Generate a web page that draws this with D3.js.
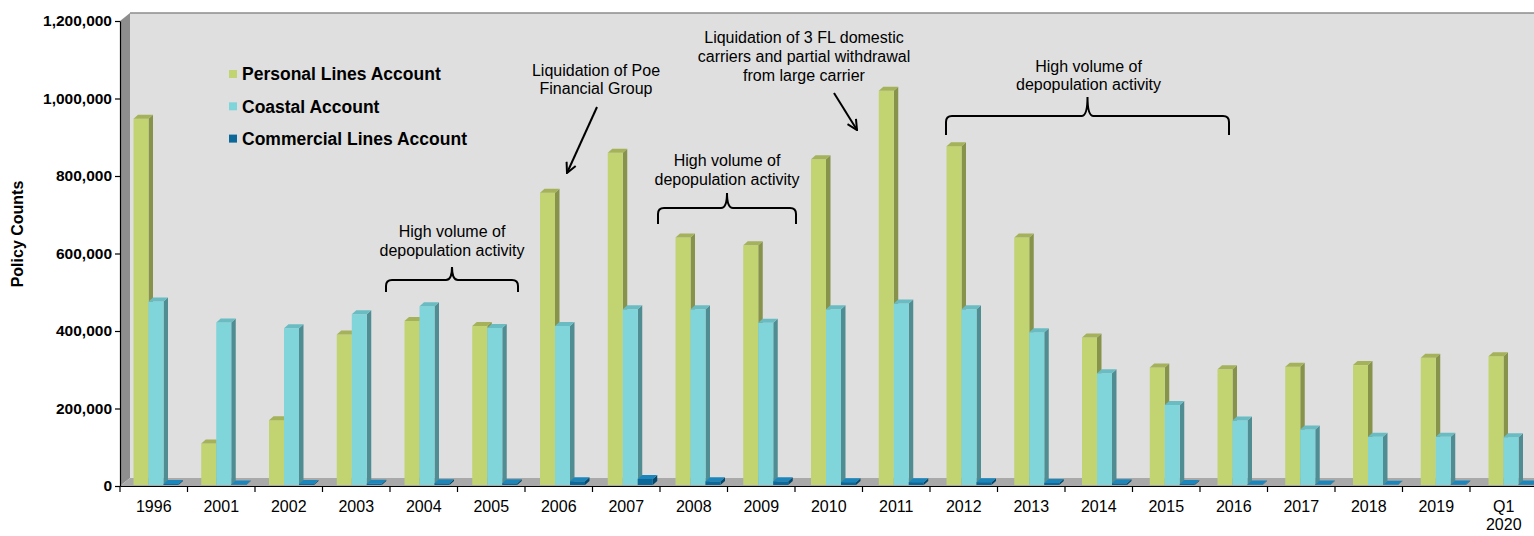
<!DOCTYPE html>
<html lang="en">
<head>
<meta charset="utf-8">
<title>Policy Counts</title>
<script src="https://cdn.jsdelivr.net/npm/d3@7"></script>
<style>
body { margin: 0; background: #fff; }
svg text { font-family: Arial, "Liberation Sans", sans-serif; fill: #000; }
</style>
</head>
<body>
<svg id="chart" width="1534" height="536"></svg>
<script>
// data
var categories = ["1996", "2001", "2002", "2003", "2004", "2005", "2006", "2007", "2008", "2009",
  "2010", "2011", "2012", "2013", "2014", "2015", "2016", "2017", "2018", "2019", "Q1 2020"];
var personal = [948000, 110000, 170000, 391000, 426000, 413000, 757000, 860000, 641000, 621000,
  843000, 1020000, 877000, 641000, 383000, 306000, 301000, 308000, 312000, 331000, 335000];
var coastal = [476000, 422000, 407000, 443000, 464000, 408000, 413000, 456000, 456000, 421000,
  456000, 471000, 456000, 397000, 291000, 209000, 169000, 146000, 127000, 127000, 126000];
var commercial = [5000, 4000, 5000, 6000, 7000, 7000, 12000, 18000, 12000, 12000,
  10000, 10000, 10000, 8000, 7000, 5000, 4000, 4000, 3000, 4000, 4000];
var seriesNames = ["Personal Lines Account", "Coastal Account", "Commercial Lines Account"];
var yTicks = [0, 200000, 400000, 600000, 800000, 1000000, 1200000];

var noteDepop = ["High volume of", "depopulation activity"];
var notePoe = ["Liquidation of Poe", "Financial Group"];
var noteFL = ["Liquidation of 3 FL domestic", "carriers and partial withdrawal", "from large carrier"];

var colors = {
  "Personal Lines Account": { front: "#c1d471", side: "#87934a", top: "#a5b25a" },
  "Coastal Account": { front: "#80d5db", side: "#4f8d93", top: "#69bcc2" },
  "Commercial Lines Account": { front: "#0b6899", side: "#06486b", top: "#1b86bb" }
};
var values = [personal, coastal, commercial];

var svg = d3.select("#chart");

var y = d3.scaleLinear().domain([0, 1200000]).range([486, 21]);
var x = d3.scaleBand().domain(categories).range([120, 1537.5]);
// bars sit a little behind the front plane, so their step is slightly wider
var xb = d3.scaleBand().domain(categories).range([133.5, 133.5 + categories.length * 67.75]);
var xs = d3.scaleBand().domain(seriesNames).range([0, 45]);

var wall = { dx: 10, dy: 8 };
var bd = { dx: 4.5, dy: 4 };
var base = y(0) - 1;

// back wall, side wall, floor
svg.append("polygon")
  .attr("points", [[120 + wall.dx, y(1200000) - wall.dy], [1545, y(1200000) - wall.dy],
    [1545, y(0) - wall.dy], [120 + wall.dx, y(0) - wall.dy]].join(" "))
  .attr("fill", "#dfdfdf");
svg.append("line")
  .attr("x1", 120 + wall.dx).attr("x2", 1545)
  .attr("y1", y(1200000) - wall.dy).attr("y2", y(1200000) - wall.dy)
  .attr("stroke", "#8d8d8d").attr("stroke-width", 1.5);
svg.append("polygon")
  .attr("points", [[120, y(1200000)], [120 + wall.dx, y(1200000) - wall.dy],
    [120 + wall.dx, y(0) - wall.dy], [120, y(0)]].join(" "))
  .attr("fill", "#8e8e8e");
svg.append("polygon")
  .attr("points", [[120, y(0)], [120 + wall.dx, y(0) - wall.dy],
    [1545, y(0) - wall.dy], [1545, y(0)]].join(" "))
  .attr("fill", "#a9a9a9");

// 3d bars, one series at a time (left bar first so the next one covers its side)
var w = xs.bandwidth();
seriesNames.forEach(function(s, k) {
  var g = svg.append("g").attr("class", "series");
  var bars = g.selectAll("g").data(values[k]).enter().append("g");
  function left(d, i) { return xb(categories[i]) + xs(s); }
  bars.append("polygon") // side
    .attr("points", function(d, i) {
      var x0 = left(d, i) + w, t = y(d);
      return [[x0, t], [x0 + bd.dx, t - bd.dy], [x0 + bd.dx, base - bd.dy], [x0, base]].join(" ");
    })
    .attr("fill", colors[s].side);
  bars.append("rect") // front
    .attr("x", left)
    .attr("y", function(d) { return y(d); })
    .attr("width", w)
    .attr("height", function(d) { return Math.max(0, base - y(d)); })
    .attr("fill", colors[s].front);
  bars.append("polygon") // top
    .attr("points", function(d, i) {
      var x0 = left(d, i), t = y(d);
      return [[x0, t], [x0 + bd.dx, t - bd.dy], [x0 + w + bd.dx, t - bd.dy], [x0 + w, t]].join(" ");
    })
    .attr("fill", colors[s].top);
});

// y axis
var yAxis = svg.append("g")
  .attr("transform", "translate(120,0)")
  .call(d3.axisLeft(y).tickValues(yTicks).tickSize(5).tickSizeOuter(0)
    .tickPadding(3).tickFormat(d3.format(",")));
yAxis.select(".domain").attr("stroke", "#000").attr("stroke-width", 1.2);
yAxis.selectAll(".tick line").attr("stroke", "#000").attr("stroke-width", 1.2);
yAxis.selectAll(".tick text")
  .attr("font-size", 15.5).attr("font-weight", "bold")
  .style("font-family", "Arial, 'Liberation Sans', sans-serif");

svg.append("text")
  .attr("transform", "translate(23,234) rotate(-90)")
  .attr("text-anchor", "middle")
  .attr("font-size", 16).attr("font-weight", "bold")
  .text("Policy Counts");

// x axis: labels centred in each band, ticks on the band edges
var xAxis = svg.append("g")
  .attr("transform", "translate(0," + y(0) + ")")
  .call(d3.axisBottom(x).tickSize(0).tickSizeOuter(0));
xAxis.select(".domain").attr("stroke", "#000").attr("stroke-width", 1.2);
xAxis.selectAll(".tick text").each(function(d) {
  var t = d3.select(this).attr("y", null).attr("dy", null).text(null)
    .attr("font-size", 16)
    .style("font-family", "Arial, 'Liberation Sans', sans-serif");
  d.split(" ").forEach(function(part, j) {
    t.append("tspan").attr("x", 0).attr("y", 26 + j * 18).text(part);
  });
});
xAxis.selectAll(".edge")
  .data(categories.concat([null]))
  .enter().append("line")
  .attr("class", "edge")
  .attr("x1", function(d) { return d === null ? x.range()[1] : x(d); })
  .attr("x2", function(d) { return d === null ? x.range()[1] : x(d); })
  .attr("y1", 0).attr("y2", 6)
  .attr("stroke", "#000").attr("stroke-width", 1.2);

// legend
var legend = svg.append("g").attr("transform", "translate(229,74)");
var li = legend.selectAll("g").data(seriesNames).enter().append("g")
  .attr("transform", function(d, i) { return "translate(0," + i * 32.3 + ")"; });
li.append("rect").attr("x", 0).attr("y", -4).attr("width", 8).attr("height", 8)
  .attr("fill", function(d) { return colors[d].front; });
li.append("text").attr("x", 13).attr("dy", "0.36em")
  .attr("font-size", 17.5).attr("font-weight", "bold")
  .text(function(d) { return d; });

// annotations
function note(lines, cx, firstBase, step) {
  var t = svg.append("text").attr("text-anchor", "middle").attr("font-size", 16);
  lines.forEach(function(line, j) {
    t.append("tspan").attr("x", cx).attr("y", firstBase + j * step).text(line);
  });
}
function brace(l, r, h, bottom, top) {
  var m = (l + r) / 2, rr = 6;
  var p = d3.path();
  p.moveTo(l, bottom);
  p.lineTo(l, h + rr);
  p.quadraticCurveTo(l, h, l + rr, h);
  p.lineTo(m - rr, h);
  p.quadraticCurveTo(m, h, m, top);
  p.quadraticCurveTo(m, h, m + rr, h);
  p.lineTo(r - rr, h);
  p.quadraticCurveTo(r, h, r, h + rr);
  p.lineTo(r, bottom);
  svg.append("path").attr("d", p.toString())
    .attr("fill", "none").attr("stroke", "#000").attr("stroke-width", 2);
  return m;
}

svg.append("defs").append("marker")
  .attr("id", "head").attr("markerUnits", "userSpaceOnUse")
  .attr("viewBox", "0 0 12 12").attr("refX", 11).attr("refY", 6)
  .attr("markerWidth", 12).attr("markerHeight", 12).attr("orient", "auto")
  .append("path").attr("d", "M1,1 L11,6 L1,11")
  .attr("fill", "none").attr("stroke", "#000").attr("stroke-width", 2);
function arrow(x1, y1, x2, y2) {
  svg.append("line").attr("x1", x1).attr("y1", y1).attr("x2", x2).attr("y2", y2)
    .attr("stroke", "#000").attr("stroke-width", 2).attr("marker-end", "url(#head)");
}

var bw = x.bandwidth();
var m1 = brace(x("2004") - 4, x("2005") + bw - 7, 280, 292, 267);
note(noteDepop, m1, 237, 19);
var m2 = brace(x("2008") - 2, x("2009") + bw + 1, 208, 224, 193);
note(noteDepop, m2, 166, 19);
var m3 = brace(x("2012") + 16, x("2016") + 29, 116, 135, 97);
note(noteDepop, m3 + 1, 72, 18);

note(notePoe, x("2006") + 71, 76, 18);
arrow(x("2006") + 72, 107, x("2006") + 42, 173);
note(noteFL, x("2010") + 9, 43, 19);
arrow(x("2010") + 39, 93, x("2010") + 62, 130);
</script>
</body>
</html>
